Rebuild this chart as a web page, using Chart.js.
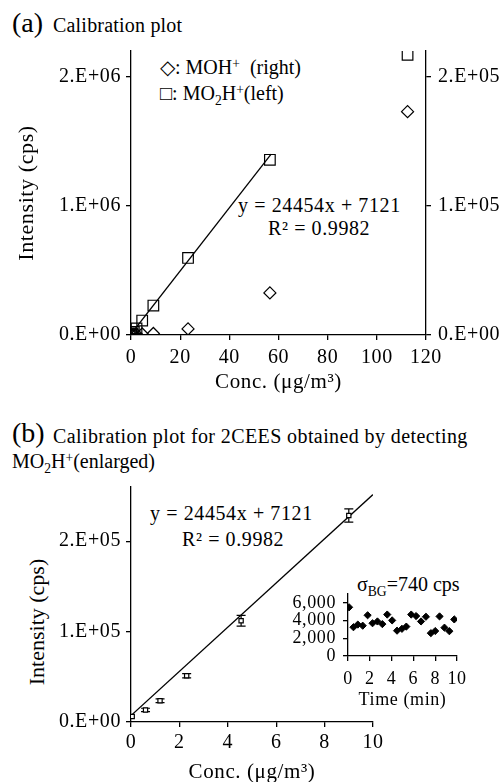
<!DOCTYPE html>
<html><head><meta charset="utf-8">
<script src="https://cdn.jsdelivr.net/npm/chart.js@4.4.0/dist/chart.umd.min.js"></script>
<style>
html,body{margin:0;padding:0;background:#fff;overflow:hidden;width:504px;height:782px;}
body{position:relative;font-family:'Liberation Serif',serif;color:#000;}
canvas{position:absolute;}
.t{position:absolute;white-space:nowrap;line-height:1;font-size:20px;font-family:'Liberation Serif',serif;}
.eq{letter-spacing:0.6px;}
sup,sub{font-size:0.68em;line-height:0;}
sup{vertical-align:0.45em;}
.rot{position:absolute;white-space:nowrap;line-height:1;font-size:22px;font-family:'Liberation Serif',serif;transform:translate(-50%,-50%) rotate(-90deg);}
</style></head><body>
<div class="t" style="left:12px;top:9px;font-size:28px">(a)</div>
<div class="t" style="left:53px;top:15px;letter-spacing:0.2px">Calibration plot</div>
<div class="t" style="left:160px;top:57px">◇: MOH<sup>+</sup>&nbsp; (right)</div>
<div class="t" style="left:160px;top:83px">□: MO<sub>2</sub>H<sup>+</sup>(left)</div>
<div class="t eq" style="left:238px;top:195px">y = 24454x + 7121</div>
<div class="t eq" style="left:268px;top:218px">R² = 0.9982</div>

<div class="t" style="left:12px;top:419px;font-size:28px">(b)</div>
<div class="t" style="left:53px;top:426px;letter-spacing:0.4px">Calibration plot for 2CEES obtained by detecting</div>
<div class="t" style="left:12px;top:451px">MO<sub>2</sub>H<sup>+</sup>(enlarged)</div>
<div class="t eq" style="left:150px;top:503px">y = 24454x + 7121</div>
<div class="t eq" style="left:182px;top:529px">R² = 0.9982</div>
<div class="rot" style="left:37px;top:622px">Intensity (cps)</div>
<div class="t" style="left:357px;top:574px">σ<sub>BG</sub>=740 cps</div>

<canvas id="ca" width="504" height="400" style="left:0;top:0;width:504px;height:400px"></canvas>
<canvas id="cb" width="504" height="320" style="left:0;top:470px;width:504px;height:320px"></canvas>
<canvas id="cc" width="234" height="150" style="left:270px;top:570px;width:234px;height:150px"></canvas>
<script>
// ---- Panel (a) data ----
const concA = [0.1, 0.6, 1.15, 2.25, 4.55, 9.1, 23.2, 56.5, 112.5];
const mo2hA = [6000, 13300, 23500, 51200, 112000, 228000, 597000, 1357000, 2170000];
const mohA  = [100, 200, 300, 500, 800, 1200, 4700, 32600, 173000];
const fitSlope = 24454, fitIntercept = 7121;
const fitRangeA = [0, 57];
const xTicksA = [0, 20, 40, 60, 80, 100, 120];
const yLeftTicksA = [0, 1e6, 2e6];
const yLeftLabelsA = ['0.E+00', '1.E+06', '2.E+06'];
const yRightTicksA = [0, 1e5, 2e5];
const yRightLabelsA = ['0.E+00', '1.E+05', '2.E+05'];

// ---- Panel (b) data ----
const concB = [0.05, 0.6, 1.2, 2.3, 4.55, 9.0];
const mo2hB = [6000, 13300, 23500, 51200, 112000, 228500];
const errB  = [0, 1900, 2000, 2400, 5900, 7400];
const fitRangeB = [0, 10];
const xTicksB = [0, 2, 4, 6, 8, 10];
const yTicksB = [0, 1e5, 2e5];
const yLabelsB = ['0.E+00', '1.E+05', '2.E+05'];

// ---- Inset data ----
const timeC = [0.1, 0.5, 0.9, 1.35, 1.8, 2.25, 2.7, 3.15, 3.6, 4.05, 4.5, 4.95, 5.35, 5.8, 6.25, 6.7, 7.15, 7.6, 8.0, 8.4, 8.85, 9.3, 9.75];
const bgC   = [5500, 3250, 3550, 3420, 4600, 3700, 3900, 3600, 4680, 4020, 2860, 3070, 3320, 4680, 4510, 3900, 4430, 2580, 2820, 4470, 3200, 2800, 4130];
const xTicksC = [0, 2, 4, 6, 8, 10];
const yTicksC = [0, 2000, 4000, 6000];
const yLabelsC = ['0', '2,000', '4,000', '6,000'];

const FONT = "'Liberation Serif', serif";
const LW = 1.3;

function scale(o) {
  const values = o.values, labels = o.labels;
  const s = {
    type: 'linear', min: o.min, max: o.max, position: o.position,
    afterBuildTicks: sc => { sc.ticks = values.map(v => ({value: v})); },
    grid: {drawOnChartArea: false, color: '#000', tickColor: '#000', tickLength: 5, lineWidth: LW},
    border: {display: true, color: '#000', width: LW},
    ticks: {autoSkip: false, maxRotation: 0, minRotation: 0, color: '#000', padding: o.pad,
      font: {family: FONT, size: o.fs || 20},
      callback: v => { const i = values.indexOf(v); return labels ? labels[i] : String(v); }},
    title: o.title ? {display: true, text: o.title, color: '#000', font: {family: FONT, size: o.tfs || 21}, padding: o.tpad} : {display: false}
  };
  if (o.w !== undefined) s.afterFit = sc => { sc.width = o.w; };
  if (o.h !== undefined) s.afterFit = sc => { sc.height = o.h; };
  return s;
}
const pts = (xs, ys) => xs.map((x, i) => ({x: x, y: ys[i]}));
const fit = r => r.map(x => ({x: x, y: fitSlope * x + fitIntercept}));
const spacing = {id: 'spacing', beforeDraw(chart) { chart.ctx.letterSpacing = '0.6px'; }};
const base = {responsive: false, devicePixelRatio: 1, animation: false,
  plugins: {legend: {display: false}, tooltip: {enabled: false}}};

// Panel (a)
new Chart(document.getElementById('ca'), {
  type: 'scatter',
  data: {datasets: [
    {data: fit(fitRangeA), showLine: true, pointRadius: 0, borderColor: '#000', borderWidth: LW, yAxisID: 'y', order: 0},
    {data: pts(concA, mo2hA), pointStyle: 'rect', pointRadius: 7.5, borderColor: '#000', borderWidth: 1.2, backgroundColor: 'rgba(0,0,0,0)', yAxisID: 'y'},
    {data: pts(concA, mohA), pointStyle: 'rectRot', pointRadius: 6, borderColor: '#000', borderWidth: 1.2, backgroundColor: 'rgba(0,0,0,0)', yAxisID: 'y1'}
  ]},
  plugins: [spacing],
  options: Object.assign({}, base, {
    layout: {padding: {top: 51, left: 0, right: 0, bottom: 0}},
    scales: {
      x: scale({min: 0, max: 120, values: xTicksA, pad: 6, h: 65, position: 'bottom', title: 'Conc. (μg/m³)', tpad: {top: 0, bottom: 5}}),
      y: scale({min: 0, max: 2.2e6, values: yLeftTicksA, labels: yLeftLabelsA, pad: 5, w: 131, position: 'left', title: 'Intensity (cps)', tfs: 22, tpad: {top: 14, bottom: 0}}),
      y1: scale({min: 0, max: 2.2e5, values: yRightTicksA, labels: yRightLabelsA, pad: 7, w: 78, position: 'right'})
    }
  })
});

// Panel (b)
const errorBars = {
  id: 'errorBars',
  beforeDatasetsDraw(chart) {
    const ctx = chart.ctx, xs = chart.scales.x, ys = chart.scales.y;
    ctx.save(); ctx.strokeStyle = '#000'; ctx.lineWidth = 1.2;
    concB.forEach((c, i) => {
      if (!errB[i]) return;
      const px = xs.getPixelForValue(c);
      const t = ys.getPixelForValue(mo2hB[i] + errB[i]);
      const b = ys.getPixelForValue(mo2hB[i] - errB[i]);
      ctx.beginPath();
      ctx.moveTo(px, t); ctx.lineTo(px, b);
      ctx.moveTo(px - 4.5, t); ctx.lineTo(px + 4.5, t);
      ctx.moveTo(px - 4.5, b); ctx.lineTo(px + 4.5, b);
      ctx.stroke();
    });
    ctx.restore();
  }
};
new Chart(document.getElementById('cb'), {
  type: 'scatter',
  data: {datasets: [
    {data: pts(concB, mo2hB), pointStyle: 'rect', pointRadius: 3, borderColor: '#000', borderWidth: 1.2, backgroundColor: '#fff'},
    {data: fit(fitRangeB), showLine: true, pointRadius: 0, borderColor: '#000', borderWidth: LW}
  ]},
  plugins: [errorBars, spacing],
  options: Object.assign({}, base, {
    layout: {padding: {top: 17, left: 0, right: 131, bottom: 0}},
    scales: {
      x: scale({min: 0, max: 10, values: xTicksB, pad: 4, h: 68, position: 'bottom', title: 'Conc. (μg/m³)', tpad: {top: 0, bottom: 5}}),
      y: scale({min: 0, max: 2.6e5, values: yTicksB, labels: yLabelsB, pad: 5, w: 131, position: 'left'})
    }
  })
});

// Inset
new Chart(document.getElementById('cc'), {
  type: 'scatter',
  data: {datasets: [
    {data: pts(timeC, bgC), pointStyle: 'rectRot', pointRadius: 3.6, borderColor: '#000', borderWidth: 1, backgroundColor: '#000'}
  ]},
  plugins: [spacing],
  options: Object.assign({}, base, {
    layout: {padding: {top: 24, left: 0, right: 47, bottom: 0}},
    scales: {
      x: scale({min: 0, max: 10, values: xTicksC, pad: 7, h: 64, fs: 18, position: 'bottom', title: 'Time (min)', tfs: 18, tpad: {top: 0, bottom: 9}}),
      y: scale({min: 0, max: 7000, values: yTicksC, labels: yLabelsC, pad: 7, w: 78, fs: 18, position: 'left'})
    }
  })
});
</script>
</body></html>
